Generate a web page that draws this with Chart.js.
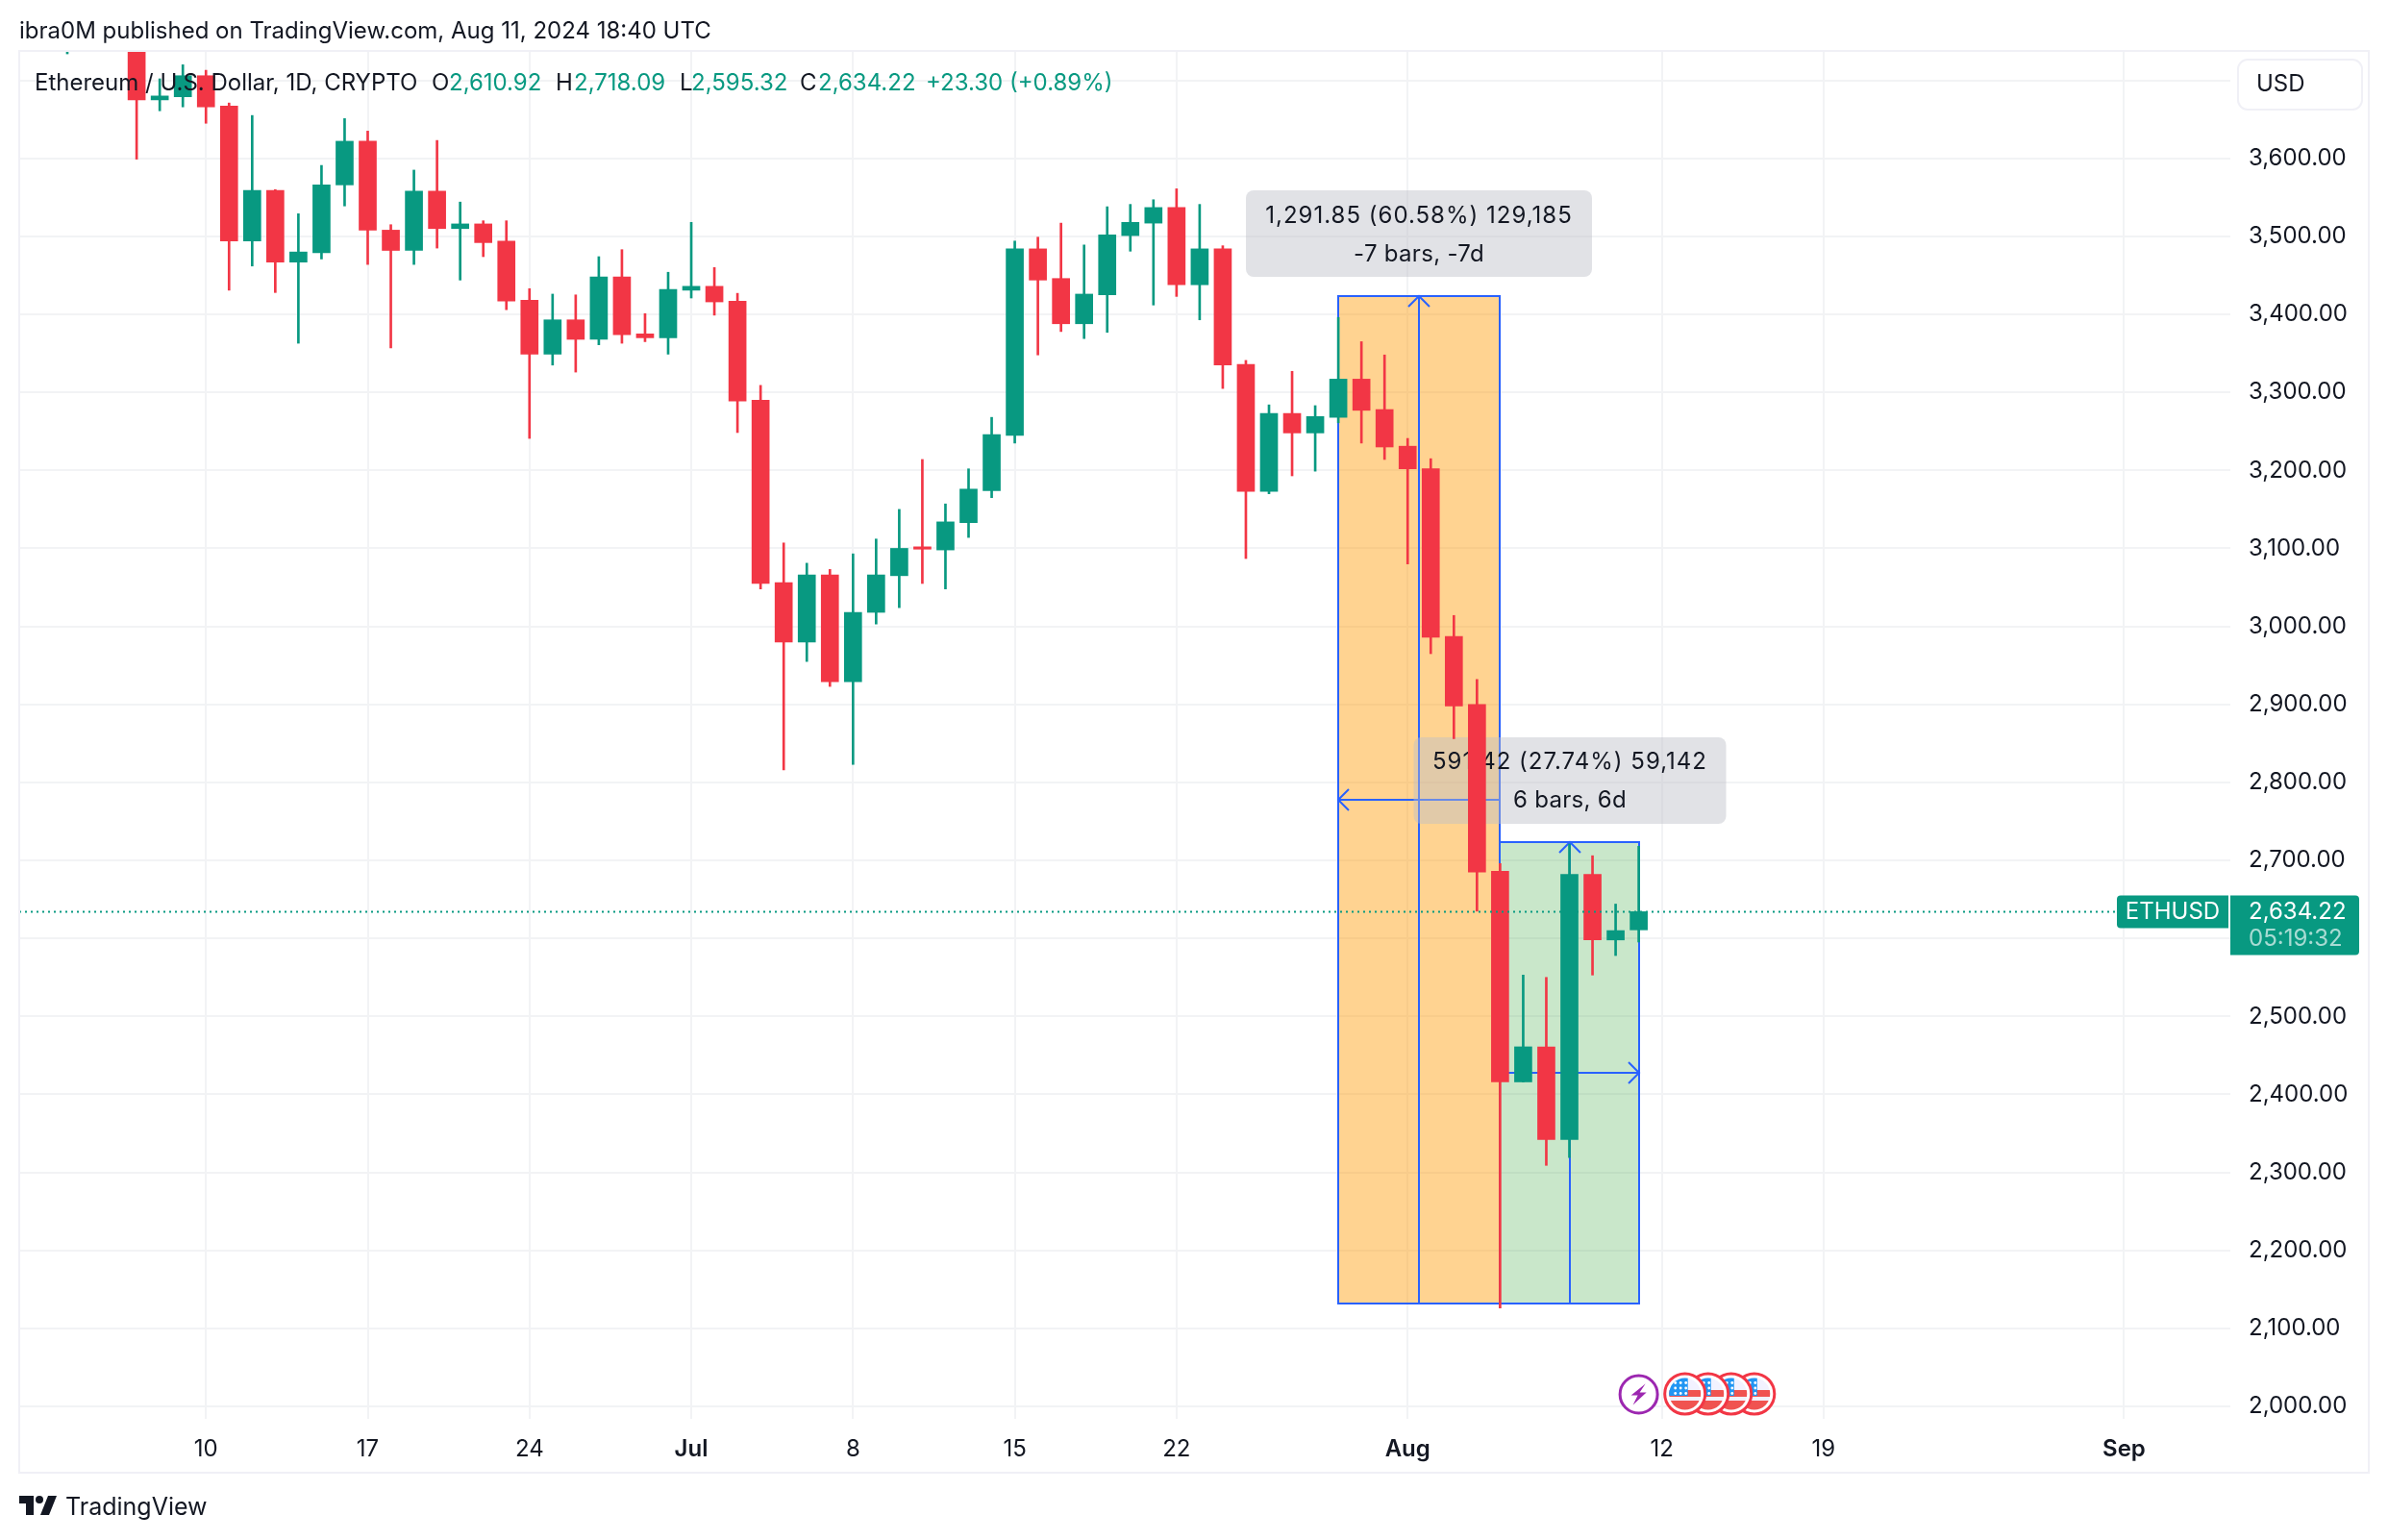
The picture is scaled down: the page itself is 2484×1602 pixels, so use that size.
<!DOCTYPE html>
<html>
<head>
<meta charset="utf-8">
<title>ETHUSD</title>
<script src="https://cdn.jsdelivr.net/npm/chart.js@4"></script>
<style>
  html, body { margin: 0; background: #fff; }
  canvas { display: block; }
</style>
</head>
<body>
<canvas id="c" width="2484" height="1602"></canvas>
<script>
// candles, one entry per visible session
const candleDates = ['2024-06-04','2024-06-07','2024-06-08','2024-06-09','2024-06-10','2024-06-11','2024-06-12','2024-06-13','2024-06-14','2024-06-15','2024-06-16','2024-06-17','2024-06-18','2024-06-19','2024-06-20','2024-06-21','2024-06-22','2024-06-23','2024-06-24','2024-06-25','2024-06-26','2024-06-27','2024-06-28','2024-06-29','2024-06-30','2024-07-01','2024-07-02','2024-07-03','2024-07-04','2024-07-05','2024-07-06','2024-07-07','2024-07-08','2024-07-09','2024-07-10','2024-07-11','2024-07-12','2024-07-13','2024-07-14','2024-07-15','2024-07-16','2024-07-17','2024-07-18','2024-07-19','2024-07-20','2024-07-21','2024-07-22','2024-07-23','2024-07-24','2024-07-25','2024-07-26','2024-07-27','2024-07-28','2024-07-29','2024-07-30','2024-07-31','2024-08-01','2024-08-02','2024-08-03','2024-08-04','2024-08-05','2024-08-06','2024-08-07','2024-08-08','2024-08-09','2024-08-10','2024-08-11'];
const opens  = [3770,3810,3675,3679,3706,3667,3494,3559,3467,3479,3566,3622,3508,3482,3558,3510,3516,3494,3418,3349,3393,3368,3448,3375,3370,3431,3436,3417,3290,3056,2980,3066,2929,3018,3065,3102,3098,3133,3174,3245,3484,3446,3388,3425,3501,3517,3537,3438,3484,3336,3173,3273,3248,3268,3317,3278,3231,3202,2987,2900,2686,2416,2461,2342,2682,2598,2610.92];
const highs  = [3830,3840,3702,3720,3713,3671,3655,3560,3529,3591,3651,3635,3515,3585,3623,3544,3520,3520,3433,3426,3425,3474,3483,3401,3454,3518,3460,3427,3309,3107,3081,3073,3093,3112,3150,3214,3157,3202,3268,3494,3499,3517,3489,3538,3541,3547,3561,3541,3488,3341,3284,3327,3283,3396,3365,3348,3241,3215,3014,2932,2696,2553,2550,2721,2706,2644,2718.09];
const lows   = [3734,3599,3661,3666,3645,3431,3462,3428,3363,3471,3539,3464,3357,3464,3485,3444,3474,3406,3241,3335,3326,3361,3363,3365,3349,3421,3399,3248.5,3048,2816,2955,2923,2823,3003,3024,3055,3048,3114,3165,3235,3348,3378,3369,3377,3481,3412,3423,3393,3305,3087,3170,3193,3199,3261,3235,3214,3080,2965,2856,2635,2126,2416,2309,2319,2553,2578,2595.32];
const closes = [3810,3675,3680,3706,3666,3494,3559,3467,3480,3566,3622,3508,3482,3558,3510,3516,3492,3417,3349,3393,3368,3448,3374,3370,3432,3436,3416,3289,3055,2980,3066,2929,3018,3066,3100,3099,3134,3176,3246,3484,3444,3388,3426,3502,3518,3537,3438,3484,3335,3173,3273,3248,3269,3317,3277,3230,3202,2986,2898,2685,2416,2461,2342,2682,2598,2610,2634.22];

// axes
const tickDates = ['2024-06-10','2024-06-17','2024-06-24','2024-07-01','2024-07-08','2024-07-15','2024-07-22','2024-08-01','2024-08-12','2024-08-19','2024-09-01'];
const tickLabels = ['10','17','24','Jul','8','15','22','Aug','12','19','Sep'];
const monthLabels = ['Jul','Aug','Sep'];
const priceTicks = [2000,2100,2200,2300,2400,2500,2600,2700,2800,2900,3000,3100,3200,3300,3400,3500,3600,3700];

// drawings and events
const shortBox = { from: '2024-07-29', to: '2024-08-05', low: 2131.65, high: 3423.5 };
const longBox  = { from: '2024-08-05', to: '2024-08-11', low: 2131.65, high: 2723.07 };
const shortText = ['1,291.85 (60.58%) 129,185', '-7 bars, -7d'];
const longText  = ['591.42 (27.74%) 59,142', '6 bars, 6d'];
const boltDates = ['2024-08-11'];
const flagDates = ['2024-08-13','2024-08-14','2024-08-15','2024-08-16'];

const GREEN = '#089981', RED = '#F23645', BLUE = '#2962FF', INK = '#131722', GRID = '#f2f3f5', FRAME = '#f0f0f6';
const FONT = 'Inter, "Noto Sans", sans-serif';
const dayOf = (s) => (Date.parse(s) - Date.UTC(2024, 6, 1)) / 864e5;
const colors = closes.map((c, i) => (c >= opens[i] ? GREEN : RED));
const lastClose = closes[closes.length - 1];

function txt(ctx, s, x, y, color, size, align, weight, spacing) {
  ctx.fillStyle = color || INK;
  ctx.font = (weight || 400) + ' ' + (size || 24) + 'px ' + FONT;
  ctx.textAlign = align || 'left';
  ctx.textBaseline = 'middle';
  ctx.letterSpacing = spacing || '0px';
  ctx.fillText(s, x, y);
  ctx.letterSpacing = '0px';
}

function roundRect(ctx, x, y, w, h, r, fill) {
  ctx.beginPath(); ctx.roundRect(x, y, w, h, r); ctx.fillStyle = fill; ctx.fill();
}

function arrow(ctx, x, y, dx, dy) {
  // chevron with its tip on x,y, pointing along dx,dy
  const s = 11;
  ctx.beginPath();
  ctx.moveTo(x - dx * s + dy * s, y - dy * s + dx * s);
  ctx.lineTo(x, y);
  ctx.lineTo(x - dx * s - dy * s, y - dy * s - dx * s);
  ctx.stroke();
}

function drawBox(chart, b, fill, lines, hDir, tip) {
  const { ctx, scales: { x: xs, y: ys } } = chart;
  // whole pixels keep the 2px outline crisp
  const l = Math.round(xs.getPixelForValue(dayOf(b.from))), r = Math.round(xs.getPixelForValue(dayOf(b.to)));
  const t = Math.round(ys.getPixelForValue(b.high)), bt = Math.round(ys.getPixelForValue(b.low));
  const mx = Math.round((l + r) / 2), my = Math.round((t + bt) / 2);
  ctx.fillStyle = fill; ctx.fillRect(l, t, r - l, bt - t);
  ctx.strokeStyle = BLUE; ctx.lineWidth = 2;
  ctx.strokeRect(l, t, r - l, bt - t);
  ctx.beginPath(); ctx.moveTo(mx, bt); ctx.lineTo(mx, t); ctx.moveTo(l, my); ctx.lineTo(r, my); ctx.stroke();
  arrow(ctx, mx, t, 0, -1);
  arrow(ctx, hDir < 0 ? l : r, my, hDir, 0);
  // translucent info label sits under the candles
  roundRect(ctx, mx - tip.w / 2, t + tip.dy, tip.w, 90, 8, 'rgba(187,189,198,.44)');
  txt(ctx, lines[0], mx, t + tip.dy + tip.line, INK, 24, 'center', 400, '1px');
  txt(ctx, lines[1], mx, t + tip.dy + tip.line + 40, INK, 24, 'center', 400, '0.3px');
}

function drawBolt(ctx, x, y) {
  ctx.beginPath(); ctx.arc(x, y, 19.5, 0, Math.PI * 2);
  ctx.fillStyle = '#fff'; ctx.fill();
  ctx.strokeStyle = '#9C27B0'; ctx.lineWidth = 3; ctx.stroke();
  ctx.beginPath();
  ctx.moveTo(x + 7, y - 11); ctx.lineTo(x - 8, y + 1); ctx.lineTo(x - 1, y + 1);
  ctx.lineTo(x - 6, y + 11); ctx.lineTo(x + 8, y - 2); ctx.lineTo(x + 1, y - 2); ctx.closePath();
  ctx.fillStyle = '#9C27B0'; ctx.fill();
}

function drawFlag(ctx, x, y) {
  ctx.beginPath(); ctx.arc(x, y, 21, 0, Math.PI * 2);
  ctx.fillStyle = '#fff'; ctx.fill();
  ctx.strokeStyle = RED; ctx.lineWidth = 3; ctx.stroke();
  ctx.save();
  ctx.beginPath(); ctx.arc(x, y, 16.5, 0, Math.PI * 2); ctx.clip();
  ctx.fillStyle = '#f2f2ff'; ctx.fillRect(x - 17, y - 17, 34, 34);
  ctx.fillStyle = '#F05350'; ctx.fillRect(x - 17, y - 4, 34, 7); ctx.fillRect(x - 17, y + 7, 34, 10);
  ctx.fillStyle = '#2196F3'; ctx.fillRect(x - 17, y - 17, 20, 19);
  ctx.fillStyle = '#fff';
  for (let r = 0; r < 3; r++) for (let c = 0; c < 3; c++) {
    ctx.beginPath(); ctx.arc(x - 10 + c * 5.5, y - 11.5 + r * 5.5, 1.4, 0, Math.PI * 2); ctx.fill();
  }
  ctx.restore();
}

function drawLogo(ctx) {
  ctx.fillStyle = INK;
  ctx.beginPath();
  ctx.moveTo(20, 1556); ctx.lineTo(35, 1556); ctx.lineTo(35, 1576); ctx.lineTo(27, 1576); ctx.lineTo(27, 1564); ctx.lineTo(20, 1564);
  ctx.closePath(); ctx.fill();
  ctx.beginPath(); ctx.arc(41, 1560, 4, 0, Math.PI * 2); ctx.fill();
  ctx.beginPath();
  ctx.moveTo(50, 1556); ctx.lineTo(59, 1556); ctx.lineTo(51, 1576); ctx.lineTo(42, 1576);
  ctx.closePath(); ctx.fill();
}

const overlays = {
  id: 'overlays',
  beforeDatasetsDraw(chart) {
    drawBox(chart, shortBox, 'rgba(255,152,0,.43)', shortText, -1, { dy: -110, w: 360, line: 27 });
    drawBox(chart, longBox, 'rgba(76,175,80,.3)', longText, 1, { dy: -109, w: 325, line: 26 });
  },
  afterDatasetsDraw(chart) {
    const { ctx, scales: { x: xs, y: ys } } = chart;
    const py = ys.getPixelForValue(lastClose);
    ctx.save();
    ctx.strokeStyle = GREEN; ctx.lineWidth = 2; ctx.setLineDash([2, 4]);
    ctx.beginPath(); ctx.moveTo(20, py); ctx.lineTo(2200, py); ctx.stroke();
    ctx.restore();
    flagDates.slice().reverse().forEach((d) => drawFlag(ctx, xs.getPixelForValue(dayOf(d)), 1450));
    boltDates.forEach((d) => drawBolt(ctx, xs.getPixelForValue(dayOf(d)), 1450.5));
  },
  afterDraw(chart) {
    const { ctx, scales: { y: ys } } = chart;
    // frame
    ctx.strokeStyle = FRAME; ctx.lineWidth = 2;
    ctx.strokeRect(20, 53, 2444, 1479);
    // header and legend
    txt(ctx, 'ibra0M published on TradingView.com, Aug 11, 2024 18:40 UTC', 20, 32.5);
    txt(ctx, 'Ethereum / U.S. Dollar, 1D, CRYPTO', 36, 86.5);
    txt(ctx, 'O', 449, 86.5); txt(ctx, '2,610.92', 467, 86.5, GREEN);
    txt(ctx, 'H', 578, 86.5); txt(ctx, '2,718.09', 597, 86.5, GREEN);
    txt(ctx, 'L', 707, 86.5); txt(ctx, '2,595.32', 719, 86.5, GREEN);
    txt(ctx, 'C', 832, 86.5); txt(ctx, '2,634.22', 851, 86.5, GREEN);
    txt(ctx, '+23.30 (+0.89%)', 963, 86.5, GREEN);
    // currency button
    ctx.beginPath(); ctx.roundRect(2328, 62, 129, 52, 10);
    ctx.fillStyle = '#fff'; ctx.fill(); ctx.strokeStyle = FRAME; ctx.lineWidth = 2; ctx.stroke();
    txt(ctx, 'USD', 2347, 88);
    // last price tags
    const py = ys.getPixelForValue(lastClose);
    roundRect(ctx, 2202, py - 17, 116, 34, [4, 0, 0, 4], GREEN);
    txt(ctx, 'ETHUSD', 2260, py + 0.5, '#fff', 24, 'center');
    roundRect(ctx, 2320, py - 17, 134, 62, [0, 4, 4, 0], GREEN);
    txt(ctx, '2,634.22', 2339, py + 0.5, '#fff');
    txt(ctx, '05:19:32', 2339, py + 28, 'rgba(255,255,255,.65)');
    // footer
    drawLogo(ctx);
    txt(ctx, 'TradingView', 68, 1568, INK, 25, 'left', 400);
  },
};

new Chart(document.getElementById('c'), {
  type: 'bar',
  data: {
    datasets: [
      { label: 'wick', data: candleDates.map((d, i) => ({ x: dayOf(d), y: [lows[i], highs[i]] })), backgroundColor: colors, barThickness: 2, grouped: false, order: 2 },
      { label: 'body', data: candleDates.map((d, i) => ({ x: dayOf(d), y: [opens[i], closes[i]] })), backgroundColor: colors, barThickness: 18, grouped: false, order: 1 },
    ],
  },
  options: {
    responsive: false,
    animation: false,
    events: [],
    layout: { padding: { left: 20, top: 54, right: 20, bottom: 70 } },
    plugins: { legend: { display: false }, tooltip: { enabled: false } },
    scales: {
      x: {
        type: 'linear', min: -29.08, max: 66.6, offset: false,
        afterBuildTicks: (s) => { s.ticks = tickDates.map((d) => ({ value: dayOf(d) })); },
        afterFit: (s) => { s.height = 56; },
        border: { display: false },
        grid: { color: GRID, lineWidth: 2, offset: false, drawTicks: false },
        ticks: {
          color: INK, padding: 17, maxRotation: 0, autoSkip: false,
          font: (c) => ({ family: FONT, size: 24, weight: monthLabels.includes(tickLabels[c.index]) ? 600 : 400 }),
          callback: (v, i) => tickLabels[i],
        },
      },
      y: {
        position: 'right', min: 1984, max: 3736.5,
        afterBuildTicks: (s) => { s.ticks = priceTicks.map((v) => ({ value: v })); },
        afterFit: (s) => { s.width = 144; },
        border: { display: false },
        grid: { color: GRID, lineWidth: 2, drawTicks: false },
        ticks: {
          color: INK, padding: 19, autoSkip: false,
          font: { family: FONT, size: 24 },
          callback: (v) => v.toLocaleString('en-US', { minimumFractionDigits: 2 }),
        },
      },
    },
  },
  plugins: [overlays],
});
</script>
</body>
</html>
